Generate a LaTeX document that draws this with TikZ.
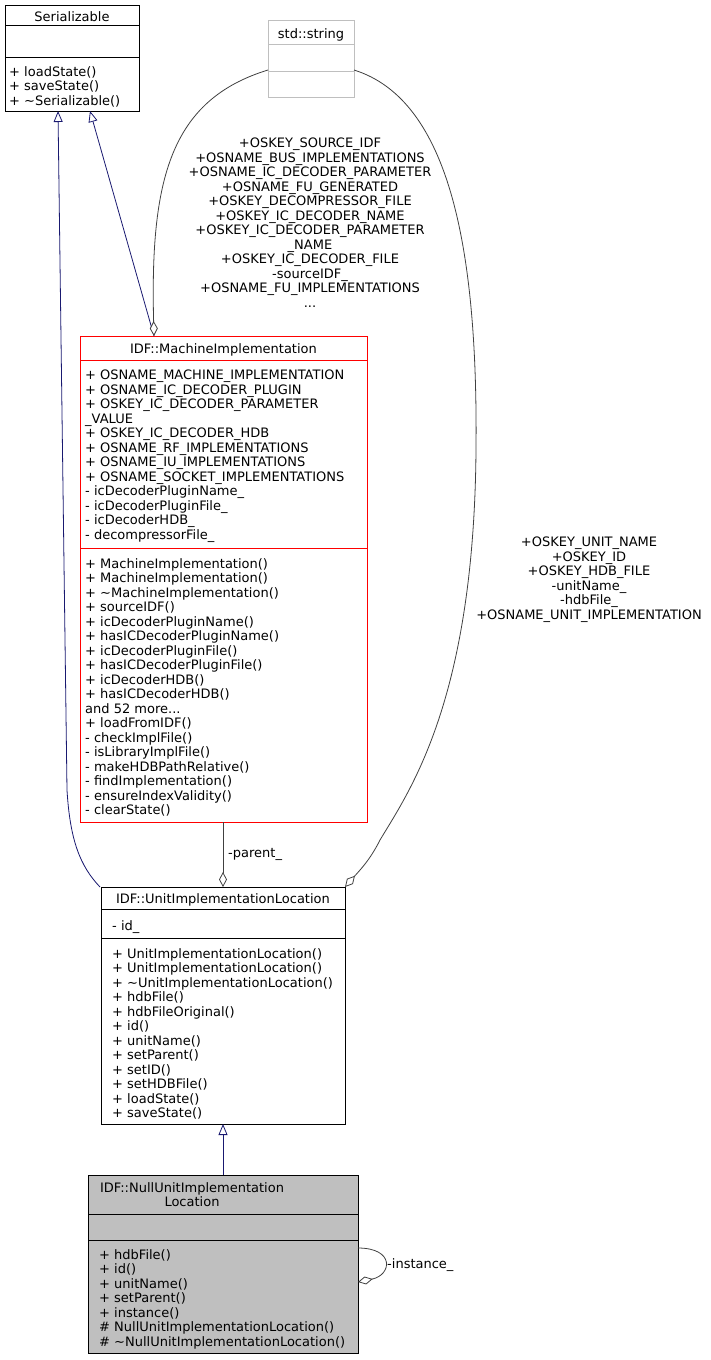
\documentclass[tikz,border=0pt]{standalone}
\usepackage{fontspec}
\setmainfont{DejaVu Sans}
\usetikzlibrary{arrows.meta}
\definecolor{navy}{HTML}{191970}
\definecolor{edgegrey}{HTML}{404040}
\definecolor{nullfill}{HTML}{BFBFBF}
\tikzset{
  cls/.style={draw=black, line width=0.8pt, inner sep=0pt, anchor=north west},
  txt/.style={anchor=north west, inner sep=0pt, align=left, font=\fontsize{13}{14.5}\selectfont},
  ctxt/.style={anchor=north, inner sep=0pt, align=center, font=\fontsize{13}{14.5}\selectfont},
  sep/.style={line width=0.8pt},
  inherit/.style={draw=navy, line width=0.8pt, -{Triangle[open, width=9pt, length=11pt, fill=white]}},
  assoc/.style={draw=edgegrey, line width=0.8pt, -{Diamond[open, width=8pt, length=15pt, fill=white]}}
}
\begin{document}
\begin{tikzpicture}[x=1pt,y=-1pt]
\useasboundingbox (0,0) rectangle (711,1360);
% Serializable
\node[cls, minimum width=134pt, minimum height=106pt] (ser) at (5,5) {};
\draw[sep] (5,25) -- (139,25);
\draw[sep] (5,57) -- (139,57);
\node[ctxt] (sert) at (72,11) {Serializable};
\node[txt] (serm) at (9,66) {+ loadState()\\+ saveState()\\+ \char`~Serializable()};
% std::string
\node[cls, draw=nullfill, minimum width=86pt, minimum height=77pt] (str) at (268,20) {};
\draw[sep, draw=nullfill] (268,44) -- (354,44);
\draw[sep, draw=nullfill] (268,71) -- (354,71);
\node[ctxt] (strt) at (311,28) {std::string};
% MachineImplementation
\node[cls, draw=red, minimum width=287pt, minimum height=486pt] (mi) at (80,336) {};
\draw[sep, draw=red] (80,360) -- (367,360);
\draw[sep, draw=red] (80,548) -- (367,548);
\node[ctxt] (mit) at (223.5,343) {IDF::MachineImplementation};
\node[txt] (mia) at (85,370) {+ OSNAME\_MACHINE\_IMPLEMENTATION\\+ OSNAME\_IC\_DECODER\_PLUGIN\\+ OSKEY\_IC\_DECODER\_PARAMETER\\\_VALUE\\+ OSKEY\_IC\_DECODER\_HDB\\+ OSNAME\_RF\_IMPLEMENTATIONS\\+ OSNAME\_IU\_IMPLEMENTATIONS\\+ OSNAME\_SOCKET\_IMPLEMENTATIONS\\- icDecoderPluginName\_\\- icDecoderPluginFile\_\\- icDecoderHDB\_\\- decompressorFile\_};
\node[txt] (mim) at (85,558) {+ MachineImplementation()\\+ MachineImplementation()\\+ \char`~MachineImplementation()\\+ sourceIDF()\\+ icDecoderPluginName()\\+ hasICDecoderPluginName()\\+ icDecoderPluginFile()\\+ hasICDecoderPluginFile()\\+ icDecoderHDB()\\+ hasICDecoderHDB()\\and 52 more...\\+ loadFromIDF()\\- checkImplFile()\\- isLibraryImplFile()\\- makeHDBPathRelative()\\- findImplementation()\\- ensureIndexValidity()\\- clearState()};
% UnitImplementationLocation
\node[cls, minimum width=244pt, minimum height=237pt] (uil) at (101,887) {};
\draw[sep] (101,909) -- (345,909);
\draw[sep] (101,938) -- (345,938);
\node[ctxt] (uilt) at (223,893) {IDF::UnitImplementationLocation};
\node[txt] (uila) at (112,920) {- id\_};
\node[txt] (uilm) at (112,948) {+ UnitImplementationLocation()\\+ UnitImplementationLocation()\\+ \char`~UnitImplementationLocation()\\+ hdbFile()\\+ hdbFileOriginal()\\+ id()\\+ unitName()\\+ setParent()\\+ setID()\\+ setHDBFile()\\+ loadState()\\+ saveState()};
% NullUnitImplementationLocation
\node[cls, fill=nullfill, minimum width=270pt, minimum height=178pt] (nul) at (88,1175) {};
\draw[sep] (88,1214) -- (358,1214);
\draw[sep] (88,1240) -- (358,1240);
\node[ctxt] (nult) at (192,1182) {IDF::NullUnitImplementation\\Location};
\node[txt] (nulm) at (99,1249) {+ hdbFile()\\+ id()\\+ unitName()\\+ setParent()\\+ instance()\\\# NullUnitImplementationLocation()\\\# \char`~NullUnitImplementationLocation()};
% connector end points
\coordinate (serb1) at (90,111);
\coordinate (serb2) at (58,111);
\coordinate (mitop) at (154,336);
\coordinate (strl) at (268,70);
\coordinate (strr) at (354,70);
\coordinate (uiltop) at (223,887);
\coordinate (uiltl) at (100,887);
\coordinate (uiltr) at (345,887);
\coordinate (mibot) at (223,822);
\coordinate (uilbot) at (223,1124);
\coordinate (nultop) at (223,1175);
\coordinate (nulr1) at (358,1248);
\coordinate (nulr2) at (358,1282);
% edges
\draw[inherit] (mitop) -- (serb1);
\draw[inherit] (uiltl) .. controls (80,866) and (70,840) .. (67,790) -- (serb2);
\draw[assoc] (strl) .. controls (170,100) and (150,180) .. (mitop);
\draw[assoc] (strr) .. controls (450,100) and (478,250) .. (476,450) .. controls (474,700) and (410,790) .. (380,840) .. controls (370,860) and (360,870) .. (uiltr);
\draw[assoc] (mibot) -- (uiltop);
\draw[inherit] (nultop) -- (uilbot);
\draw[assoc] (nulr1) .. controls (395,1248) and (392,1275) .. (nulr2);
% labels
\node[ctxt] (l1) at (310,138) {+OSKEY\_SOURCE\_IDF\\+OSNAME\_BUS\_IMPLEMENTATIONS\\+OSNAME\_IC\_DECODER\_PARAMETER\\+OSNAME\_FU\_GENERATED\\+OSKEY\_DECOMPRESSOR\_FILE\\+OSKEY\_IC\_DECODER\_NAME\\+OSKEY\_IC\_DECODER\_PARAMETER\\\_NAME\\+OSKEY\_IC\_DECODER\_FILE\\-sourceIDF\_\\+OSNAME\_FU\_IMPLEMENTATIONS\\...};
\node[ctxt] (l2) at (589,537) {+OSKEY\_UNIT\_NAME\\+OSKEY\_ID\\+OSKEY\_HDB\_FILE\\-unitName\_\\-hdbFile\_\\+OSNAME\_UNIT\_IMPLEMENTATION};
\node[txt] (l3) at (228,848) {-parent\_};
\node[txt] (l4) at (387,1258) {-instance\_};
\end{tikzpicture}
\end{document}
